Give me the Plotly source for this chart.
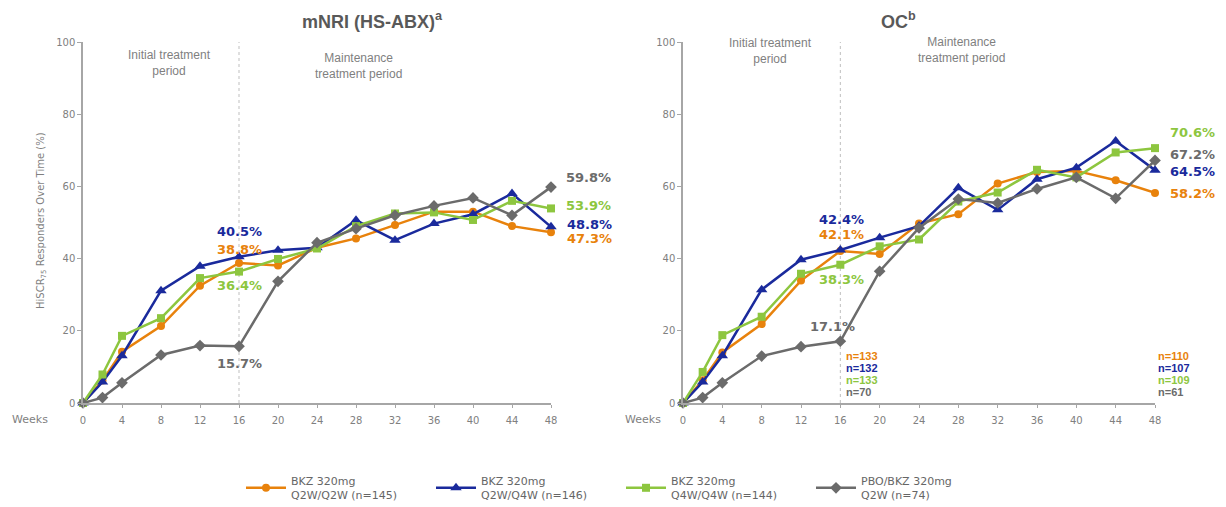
import plotly.graph_objects as go

weeks = [0, 2, 4, 8, 12, 16, 20, 24, 28, 32, 36, 40, 44, 48]
tick_weeks = [0, 4, 8, 12, 16, 20, 24, 28, 32, 36, 40, 44, 48]

series_names = ["BKZ 320mg<br>Q2W/Q2W (n=145)", "BKZ 320mg<br>Q2W/Q4W (n=146)",
                "BKZ 320mg<br>Q4W/Q4W (n=144)", "PBO/BKZ 320mg<br>Q2W (n=74)"]

# mNRI (HS-ABX)
mnri_q2q2 = [0, 6.2, 14.2, 21.3, 32.5, 38.8, 38.1, 43.0, 45.6, 49.3, 53.0, 53.0, 49.0, 47.3]
mnri_q2q4 = [0, 5.8, 13.1, 31.1, 37.9, 40.5, 42.3, 43.0, 50.6, 45.1, 49.7, 52.3, 58.0, 48.8]
mnri_q4q4 = [0, 7.9, 18.6, 23.5, 34.6, 36.4, 39.9, 42.8, 49.0, 52.5, 52.8, 50.7, 56.0, 53.9]
mnri_pbo = [0, 1.5, 5.6, 13.3, 15.9, 15.7, 33.7, 44.4, 48.3, 52.0, 54.6, 56.8, 52.0, 59.8]

# OC
oc_q2q2 = [0, 6.3, 14.0, 21.9, 33.9, 42.1, 41.3, 49.7, 52.3, 60.8, 64.0, 64.3, 61.7, 58.2]
oc_q2q4 = [0, 5.8, 13.1, 31.4, 39.7, 42.4, 45.8, 49.0, 59.6, 53.5, 62.0, 65.2, 72.6, 64.5]
oc_q4q4 = [0, 8.6, 18.8, 23.9, 35.8, 38.3, 43.4, 45.3, 55.8, 58.3, 64.6, 62.5, 69.4, 70.6]
oc_pbo = [0, 1.5, 5.6, 13.0, 15.6, 17.1, 36.5, 48.5, 56.5, 55.4, 59.3, 62.5, 56.7, 67.2]

n_week16 = ["n=133", "n=132", "n=133", "n=70"]
n_week48 = ["n=110", "n=107", "n=109", "n=61"]

colors = ["#E8820C", "#1A2A9C", "#8DC63F", "#6B6B6B"]
symbols = ["circle", "triangle-up", "square", "diamond"]
msizes = [8, 10, 8, 9]

fig = go.Figure()

panels = [
    ("x", "y", [mnri_q2q2, mnri_q2q4, mnri_q4q4, mnri_pbo]),
    ("x2", "y2", [oc_q2q2, oc_q2q4, oc_q4q4, oc_pbo]),
]
for pi, (xa, ya, data) in enumerate(panels):
    for i, vals in enumerate(data):
        fig.add_trace(go.Scatter(
            x=weeks, y=vals, mode="lines+markers", xaxis=xa, yaxis=ya,
            name=series_names[i], showlegend=(pi == 0),
            line=dict(color=colors[i], width=2.5),
            marker=dict(symbol=symbols[i], size=msizes[i], color=colors[i]),
            cliponaxis=False,
        ))

W, H = 1226, 507
OFF = 8  # page body margin
def px_x(p):
    return (p - OFF) / W
def px_y(p):
    return 1 - (p - OFF) / H

left_dom = [px_x(83), px_x(551)]
right_dom = [px_x(683), px_x(1155)]
y_dom = [px_y(403), px_y(42)]
X_MAX, Y_MAX = 48, 100

axis_common = dict(range=[0, X_MAX], tickvals=tick_weeks, showgrid=False, zeroline=False,
                   showline=True, linecolor="#A6A6A6", linewidth=1.5,
                   ticks="outside", ticklen=3, tickcolor="#A6A6A6", ticklabelstandoff=4,
                   tickfont=dict(family="DejaVu Sans", size=10, color="#808080"))
yaxis_common = dict(range=[0, Y_MAX], tickvals=[0, 20, 40, 60, 80, 100], showgrid=False,
                    zeroline=False, showline=True, linecolor="#A6A6A6", linewidth=1.5,
                    ticks="outside", ticklen=4, tickcolor="#A6A6A6",
                    tickfont=dict(family="DejaVu Sans", size=10, color="#808080"))

fig.update_layout(
    width=W, height=H,
    margin=dict(l=0, r=0, t=0, b=0, autoexpand=False),
    paper_bgcolor="white", plot_bgcolor="white",
    xaxis=dict(domain=left_dom, anchor="y", automargin=False, **axis_common),
    yaxis=dict(domain=y_dom, anchor="x", automargin=False, **yaxis_common),
    xaxis2=dict(domain=right_dom, anchor="y2", automargin=False, **axis_common),
    yaxis2=dict(domain=y_dom, anchor="x2", automargin=False, **yaxis_common),
    legend=dict(orientation="h", x=px_x(241), y=px_y(467), xanchor="left", yanchor="top",
                entrywidth=135, entrywidthmode="pixels", itemwidth=40,
                font=dict(family="DejaVu Sans", size=11, color="#666666"),
                bgcolor="rgba(0,0,0,0)", tracegroupgap=0),
    showlegend=True,
)

# vertical dotted lines at week 16
for xa, ya in [("x", "y"), ("x2", "y2")]:
    fig.add_shape(type="line", xref=xa, yref=ya, x0=16, x1=16, y0=0, y1=100,
                  line=dict(color="#BFBFBF", width=1, dash="dot"), layer="below")

ann = []
def add(text, x, y, xref="paper", yref="paper", size=12, color="#595959", bold=False,
        xanchor="center", yanchor="middle", family="DejaVu Sans", angle=0):
    t = f"<b>{text}</b>" if bold else text
    ann.append(dict(text=t, x=x, y=y, xref=xref, yref=yref, showarrow=False,
                    xanchor=xanchor, yanchor=yanchor, textangle=angle,
                    font=dict(family=family, size=size, color=color)))

def add_dom(text, week, val, panel, **kw):
    # position in axis-domain fractions (works outside the axis range)
    add(text, week / X_MAX, val / Y_MAX, f"{panel} domain", f"{'y' if panel == 'x' else 'y2'} domain", **kw)

# Titles
add("mNRI (HS-ABX)<sup>a</sup>", px_x(372), px_y(20), size=18, bold=True,
    family="Liberation Sans", color="#595959")
add("OC<sup>b</sup>", px_x(898), px_y(20), size=18, bold=True,
    family="Liberation Sans", color="#595959")

# Period labels
for xa, ya, yi, ym in [("x", "y", 94.2, 93.4), ("x2", "y2", 97.5, 97.9)]:
    add("Initial treatment<br>period", 8.9, yi, xref=xa, yref=ya, size=12,
        color="#7F7F7F", family="Liberation Sans")
    add("Maintenance<br>treatment period", 28.3, ym, xref=xa, yref=ya, size=12,
        color="#7F7F7F", family="Liberation Sans")

# Y axis title
add("HiSCR<sub>75</sub> Responders Over Time (%)", px_x(42), px_y(221), size=10,
    color="#7F7F7F", angle=-90, family="DejaVu Sans")

# Weeks labels
add("Weeks", px_x(30), px_y(419), size=11, color="#7F7F7F")
add("Weeks", px_x(643), px_y(419), size=11, color="#7F7F7F")

# Value labels left panel
lbl = dict(size=13, bold=True, xanchor="left")
add_dom("40.5%", 13.5, 47.4, "x", color=colors[1], **lbl)
add_dom("38.8%", 13.5, 42.5, "x", color=colors[0], **lbl)
add_dom("36.4%", 13.5, 32.5, "x", color=colors[2], **lbl)
add_dom("15.7%", 13.5, 11.0, "x", color=colors[3], **lbl)
add_dom("59.8%", 49.3, 62.5, "x", color=colors[3], **lbl)
add_dom("53.9%", 49.3, 54.6, "x", color=colors[2], **lbl)
add_dom("48.8%", 49.4, 49.5, "x", color=colors[1], **lbl)
add_dom("47.3%", 49.4, 45.6, "x", color=colors[0], **lbl)

# Value labels right panel
add_dom("42.4%", 13.6, 50.7, "x2", color=colors[1], **lbl)
add_dom("42.1%", 13.6, 46.7, "x2", color=colors[0], **lbl)
add_dom("38.3%", 13.6, 34.2, "x2", color=colors[2], **lbl)
add_dom("17.1%", 12.7, 21.3, "x2", color=colors[3], **lbl)
add_dom("70.6%", 49.3, 74.9, "x2", color=colors[2], **lbl)
add_dom("67.2%", 49.3, 68.9, "x2", color=colors[3], **lbl)
add_dom("64.5%", 49.3, 64.1, "x2", color=colors[1], **lbl)
add_dom("58.2%", 49.3, 57.9, "x2", color=colors[0], **lbl)

# n labels
n_y = [12.9, 9.6, 6.3, 3.0]
for i in range(4):
    add_dom(n_week16[i], 16.4, n_y[i], "x2", size=11, bold=True, color=colors[i],
            xanchor="left", family="Liberation Sans")
    add_dom(n_week48[i], 48.1, n_y[i], "x2", size=11, bold=True, color=colors[i],
            xanchor="left", family="Liberation Sans")

fig.update_layout(annotations=ann)
fig.write_html("out.html")
